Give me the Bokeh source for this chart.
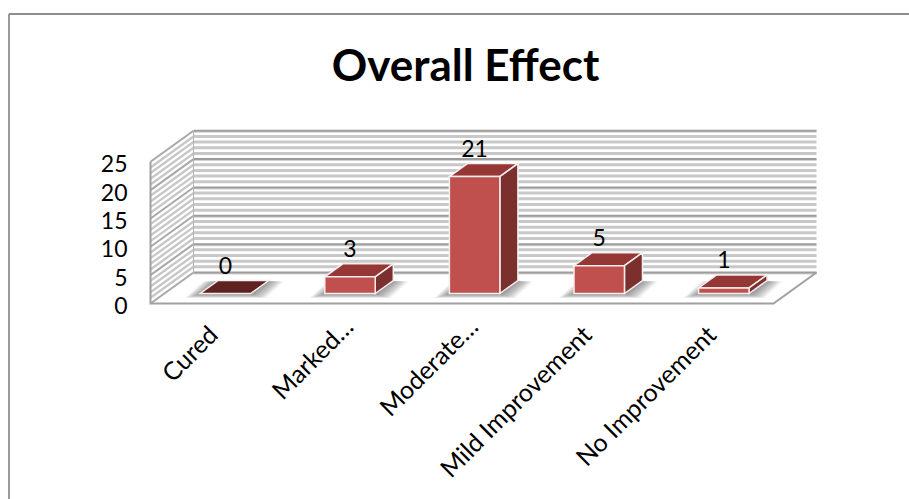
from bokeh.core.properties import value
from bokeh.embed import file_html
from bokeh.models import ColumnDataSource, Range1d
from bokeh.plotting import figure
from bokeh.resources import INLINE

# Chart content
categories = ["Cured", "Marked…", "Moderate…", "Mild Improvement", "No Improvement"]
counts = [0, 3, 21, 5, 1]
axis_ticks = [0, 5, 10, 15, 20, 25]
title_text = "Overall Effect"
axis_max = 25

# Page and plot geometry, in pixels
WIDTH, HEIGHT = 909, 499
ORIGIN_X, ORIGIN_Y = 150.0, 303.0   # front-left corner of the floor
PX_PER_CAT = 124.6
PX_PER_VALUE = 5.67
DEPTH_X_PX, DEPTH_Y_PX = 43.0, 31.0  # oblique offset of the back wall

DX = DEPTH_X_PX / PX_PER_CAT
DY = DEPTH_Y_PX / PX_PER_VALUE

BAR_WIDTH = 0.405
BAR_CENTER = 0.49                        # bar centre within its category slot
BAR_FRONT, BAR_BACK = 10 / 31, 23 / 31   # bar depth span, 0 = front edge, 1 = back wall
BAR_SCALE = 0.982                        # bars sit nearer than the wall, slightly foreshortened

FONT = "Lato"


def project(u, v, d):
    """Oblique projection of category u, value v and depth d onto the plot plane."""
    return u + d * DX, v + d * DY


def px_x(px):
    return (px - ORIGIN_X) / PX_PER_CAT


def px_y(px):
    return (ORIGIN_Y - px) / PX_PER_VALUE


p = figure(
    width=WIDTH,
    height=HEIGHT,
    x_range=Range1d(px_x(0), px_x(WIDTH)),
    y_range=Range1d(px_y(HEIGHT), px_y(0)),
    output_backend="svg",
    toolbar_location=None,
    min_border=0,
    outline_line_color=None,
    background_fill_color="white",
)
p.axis.visible = False
p.grid.visible = False

# Outer chart border: only the top and left edges fall inside the page
p.line([px_x(8.5), px_x(8.5)], [px_y(HEIGHT), px_y(13.5)], line_color="#9a9a9a", line_width=2)
p.line([px_x(8.5), px_x(WIDTH)], [px_y(13.5), px_y(13.5)], line_color="#8c8c8c", line_width=2)


def grid_segments(levels):
    back_x, back_y, side_x, side_y = [], [], [], []
    for level in levels:
        x0, y0 = project(0, level, 0)
        x1, y1 = project(0, level, 1)
        x2, y2 = project(5, level, 1)
        back_x.append([x1, x2])
        back_y.append([y1, y2])
        side_x.append([x0, x1])
        side_y.append([y0, y1])
    return back_x, back_y, side_x, side_y


# Value gridlines on the back wall and the left wall
minor_levels = [v for v in range(axis_max + 1) if v % 5]
major_levels = [v for v in range(axis_max + 1) if v % 5 == 0]
bx, by, sx, sy = grid_segments(minor_levels)
p.multi_line(bx, by, line_color="#c8c8c8", line_width=3, line_cap="butt")
p.multi_line(sx, sy, line_color="#c8c8c8", line_width=2.4, line_cap="butt")
bx, by, sx, sy = grid_segments(major_levels)
p.multi_line(bx, [[y - 0.18 for y in row] for row in by], line_color="#d2d2d2", line_width=2, line_cap="butt")
p.multi_line(bx, by, line_color="#9c9c9c", line_width=2, line_cap="butt")
p.multi_line(sx, sy, line_color="#a8a8a8", line_width=2, line_cap="butt")

# Floor edges and the vertical edges of the walls
fx = [project(*c)[0] for c in [(0, axis_max, 0), (0, 0, 0), (5, 0, 0), (5, 0, 1)]]
fy = [project(*c)[1] for c in [(0, axis_max, 0), (0, 0, 0), (5, 0, 0), (5, 0, 1)]]
p.line(fx, fy, line_color="#a0a0a0", line_width=2, line_join="miter")
ex = [project(*c)[0] for c in [(0, 0, 1), (0, axis_max, 1)]]
ey = [project(*c)[1] for c in [(0, 0, 1), (0, axis_max, 1)]]
p.line(ex, ey, line_color="#b4b4b4", line_width=1)

# Soft shadows on the floor, built from stacked translucent footprints
for i in range(len(counts)):
    left, right = i + BAR_CENTER - BAR_WIDTH / 2, i + BAR_CENTER + BAR_WIDTH / 2
    for step in range(9):
        grow = (15 - step * 1.7) / PX_PER_CAT
        lift = (4.5 - step * 0.45) / PX_PER_VALUE
        corners = [
            (left - grow, 0, BAR_FRONT),
            (right + grow, 0, BAR_FRONT),
            (right + grow, 0, BAR_BACK),
            (left - grow, 0, BAR_BACK),
        ]
        xs = [project(*c)[0] for c in corners]
        ys = [project(*c)[1] for c in corners]
        ys = [ys[0] - lift, ys[1] - lift, ys[2] - lift * 0.2, ys[3] - lift * 0.2]
        p.patch(xs, ys, fill_color="#303030", fill_alpha=0.065, line_color=None)

# Bars: top, side and front faces
for i, count in enumerate(counts):
    left, right = i + BAR_CENTER - BAR_WIDTH / 2, i + BAR_CENTER + BAR_WIDTH / 2
    h = count * BAR_SCALE
    top = [(left, h, BAR_FRONT), (right, h, BAR_FRONT), (right, h, BAR_BACK), (left, h, BAR_BACK)]
    side = [(right, 0, BAR_FRONT), (right, 0, BAR_BACK), (right, h, BAR_BACK), (right, h, BAR_FRONT)]
    front = [(left, 0, BAR_FRONT), (right, 0, BAR_FRONT), (right, h, BAR_FRONT), (left, h, BAR_FRONT)]
    top_color = "#953735" if count else "#5f2220"
    for face, color in ((top, top_color), (side, "#7c302e"), (front, "#c0504d")):
        if face is not top and count == 0:
            continue
        p.patch(
            [project(*c)[0] for c in face],
            [project(*c)[1] for c in face],
            fill_color=color,
            line_color="#f4eeee",
            line_width=1.5,
            line_join="miter",
        )

# Value labels above each bar
centers = [i + BAR_CENTER for i in range(len(counts))]
label_src = ColumnDataSource(
    dict(
        x=[project(c, 0, BAR_FRONT)[0] for c in centers],
        y=[project(c, n * BAR_SCALE, BAR_BACK)[1] for c, n in zip(centers, counts)],
        text=[str(n) for n in counts],
    )
)
p.text(
    "x", "y", text="text", source=label_src,
    text_font=value(FONT), text_font_size="23px", text_color="black",
    text_align="center", text_baseline="middle", y_offset=-15,
)

# Value axis labels along the front edge of the left wall
tick_src = ColumnDataSource(
    dict(x=[0] * len(axis_ticks), y=axis_ticks, text=[str(t) for t in axis_ticks])
)
p.text(
    "x", "y", text="text", source=tick_src,
    text_font=value(FONT), text_font_size="23px", text_color="black",
    text_align="right", text_baseline="middle", x_offset=-23, y_offset=2,
)

# Rotated category labels; shortened names sit a little further along the diagonal
cat_src = ColumnDataSource(
    dict(
        x=[project(c, 0, BAR_FRONT)[0] for c in centers],
        y=[0] * len(categories),
        text=categories,
        dx=[-2 if name.endswith("…") else -13 for name in categories],
        dy=[18 if name.endswith("…") else 26 for name in categories],
    )
)
p.text(
    "x", "y", text="text", source=cat_src, angle=45, angle_units="deg",
    text_font=value(FONT), text_font_size="25px", text_color="black",
    text_align="right", text_baseline="middle", x_offset="dx", y_offset="dy",
)

# Chart title
p.text(
    [px_x(465)], [px_y(63)], text=[title_text],
    text_font=value(FONT), text_font_style="bold", text_font_size="44px", text_color="black",
    text_align="center", text_baseline="middle",
)

open("out.html", "w").write(file_html(p, INLINE))
